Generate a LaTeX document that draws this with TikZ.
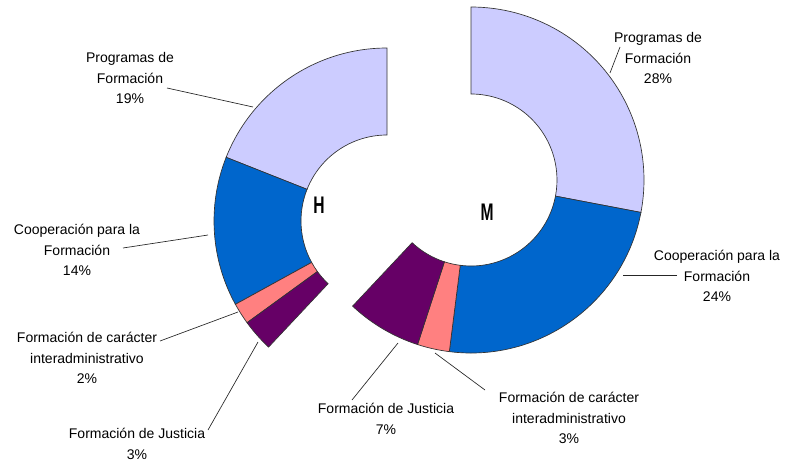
\documentclass[tikz,border=0pt]{standalone}
\usepackage{fontspec}
\setmainfont{Liberation Sans}
\usetikzlibrary{positioning}

\definecolor{lavender}{HTML}{CCCCFF}
\definecolor{midblue}{HTML}{0066CC}
\definecolor{salmon}{HTML}{FF8080}
\definecolor{plum}{HTML}{660066}

\begin{document}
\begin{tikzpicture}[
  x=0.75pt,y=0.75pt,
  slice/.style={draw=black!80,line width=0.5pt},
  tlabel/.style={align=center,font=\fontsize{10.5}{15.5}\selectfont,inner sep=1pt},
  ringname/.style={font=\fontsize{18}{18}\selectfont\bfseries,xscale=0.65},
  leader/.style={draw=black!85,line width=0.5pt}
]
\useasboundingbox (0,0) rectangle (800,462);

% H ring
\begin{scope}[shift={(387,241)}]
  \foreach \a/\b/\c in {90/158.4/lavender,158.4/208.8/midblue,208.8/216/salmon,216/226.8/plum}
    \filldraw[slice,fill=\c] (\a:173) arc[start angle=\a,end angle=\b,radius=173]
      -- (\b:86) arc[start angle=\b,end angle=\a,radius=86] -- cycle;
\end{scope}

% M ring
\begin{scope}[shift={(471,282)}]
  \foreach \a/\b/\c in {90/-10.8/lavender,-10.8/-97.2/midblue,-97.2/-108/salmon,-108/-133.2/plum}
    \filldraw[slice,fill=\c] (\a:173) arc[start angle=\a,end angle=\b,radius=173]
      -- (\b:86) arc[start angle=\b,end angle=\a,radius=86] -- cycle;
\end{scope}

\node[ringname] (hname) at (319,257) {H};
\node[ringname] (mname) at (487,250) {M};

% labels H
\node[tlabel] (hprog) at (130,384) {Programas de\\Formación\\19\%};
\node[tlabel] (hcoop) at (77,212) {Cooperación para la\\Formación\\14\%};
\node[tlabel] (hinter) at (87,104) {Formación de carácter\\interadministrativo\\2\%};
\node[tlabel] (hjust) at (137,18) {Formación de Justicia\\3\%};

% labels M
\node[tlabel] (mprog) at (658,404) {Programas de\\Formación\\28\%};
\node[tlabel] (mcoop) at (717,186) {Cooperación para la\\Formación\\24\%};
\node[tlabel] (mjust) at (386,43) {Formación de Justicia\\7\%};
\node[tlabel] (minter) at (569,44) {Formación de carácter\\interadministrativo\\3\%};

% leader ends
\coordinate (hprog-t) at (167,374);  \coordinate (hprog-r) at (253,355);
\coordinate (hcoop-t) at (123,214);  \coordinate (hcoop-r) at (208,227);
\coordinate (hinter-t) at (160,121); \coordinate (hinter-r) at (238,150);
\coordinate (hjust-t) at (208,32);   \coordinate (hjust-r) at (258,120);
\coordinate (mprog-t) at (620,415);  \coordinate (mprog-r) at (610,389);
\coordinate (mcoop-t) at (677,187);  \coordinate (mcoop-r) at (623,187);
\coordinate (mjust-t) at (352,62);   \coordinate (mjust-r) at (398,119);
\coordinate (minter-t) at (485,72);  \coordinate (minter-r) at (435,109);

\foreach \n in {hprog,hcoop,hinter,hjust,mprog,mcoop,mjust,minter}
  \draw[leader] (\n-t) -- (\n-r);
\end{tikzpicture}
\end{document}
